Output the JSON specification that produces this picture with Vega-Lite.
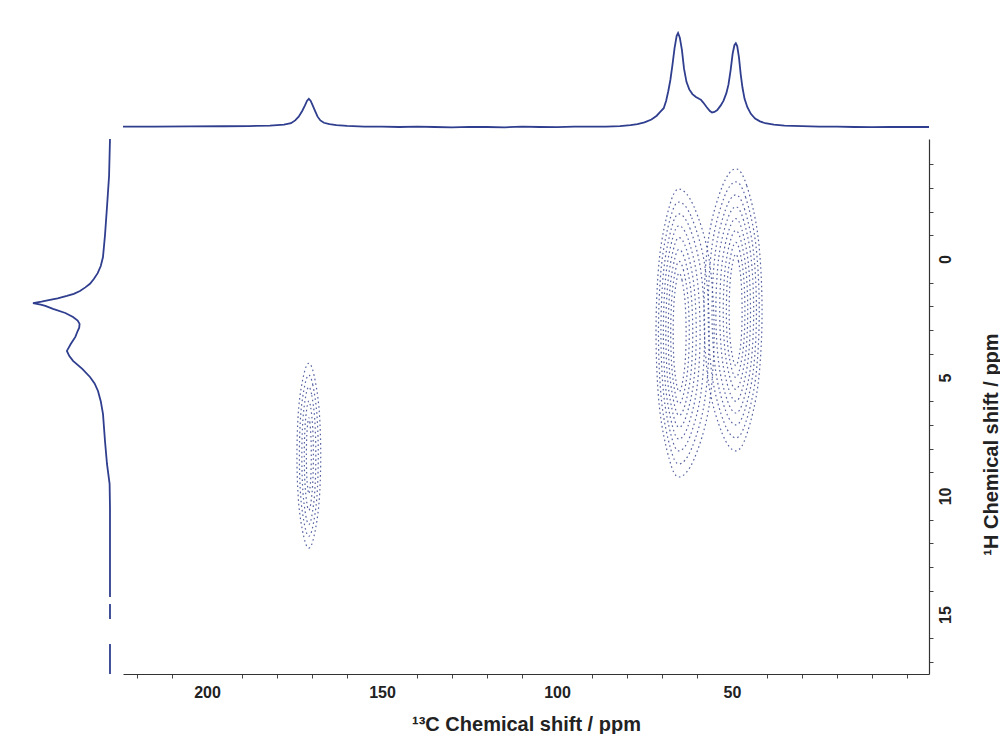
{
  "$schema": "https://vega.github.io/schema/vega-lite/v6.json",
  "background": "white",
  "padding": {"left": 20, "top": 20, "right": 0, "bottom": 0},
  "config": {"view": {"stroke": null}, "font": "Liberation Sans"},
  "columns": 2,
  "spacing": 0,
  "datasets": {
    "top": [
      {"c":224,"i":0.3},{"c":215,"i":0.5},{"c":205,"i":0.6},{"c":195,"i":0.8},{"c":188,"i":1.0},{"c":182,"i":1.5},{"c":178,"i":2.5},{"c":176,"i":4},{"c":174.8,"i":7},{"c":173.8,"i":11},{"c":172.8,"i":17},{"c":172,"i":23},{"c":171.4,"i":28},{"c":170.9,"i":30},{"c":170.4,"i":28},{"c":169.8,"i":23},{"c":169.1,"i":17},{"c":168.4,"i":11},{"c":167.6,"i":7},{"c":166.6,"i":4.5},{"c":165,"i":3},{"c":163,"i":2},{"c":160,"i":1.2},{"c":155,"i":0.5},{"c":150,"i":0.3},{"c":145,"i":0},{"c":140,"i":0.4},{"c":135,"i":0},{"c":130,"i":-0.3},{"c":125,"i":0.2},{"c":120,"i":0},{"c":115,"i":-0.3},{"c":110,"i":0.3},{"c":105,"i":0},{"c":100,"i":-0.2},{"c":95,"i":0.4},{"c":90,"i":0.3},{"c":86,"i":0.5},{"c":82,"i":1},{"c":79,"i":2},{"c":77,"i":3},{"c":75,"i":5},{"c":73,"i":8},{"c":71.5,"i":12},{"c":70.5,"i":16},{"c":69.5,"i":20},{"c":68.8,"i":28},{"c":68.2,"i":38},{"c":67.6,"i":50},{"c":67.0,"i":66},{"c":66.4,"i":84},{"c":65.8,"i":97},{"c":65.4,"i":100},{"c":64.9,"i":95},{"c":64.3,"i":82},{"c":63.7,"i":62},{"c":63.0,"i":48},{"c":62.2,"i":40},{"c":61.3,"i":35},{"c":60.3,"i":32},{"c":59.4,"i":30},{"c":58.9,"i":29},{"c":58.2,"i":26},{"c":57.2,"i":21},{"c":56.3,"i":17},{"c":55.7,"i":15.5},{"c":55,"i":16},{"c":54.2,"i":18},{"c":53.2,"i":23},{"c":52.4,"i":28},{"c":51.6,"i":36},{"c":51.0,"i":45},{"c":50.4,"i":60},{"c":49.8,"i":78},{"c":49.3,"i":87},{"c":48.9,"i":89},{"c":48.5,"i":86},{"c":48.0,"i":74},{"c":47.5,"i":56},{"c":47.0,"i":42},{"c":46.4,"i":30},{"c":45.6,"i":21},{"c":44.6,"i":14},{"c":43.4,"i":9},{"c":42,"i":6},{"c":40.5,"i":4},{"c":38,"i":2.5},{"c":35,"i":1.5},{"c":30,"i":1},{"c":25,"i":0.5},{"c":20,"i":0.3},{"c":15,"i":0},{"c":10,"i":-0.2},{"c":5,"i":0},{"c":0,"i":0},{"c":-6.3,"i":0}
    ],
    "left": [
      {"s":1,"h":-5.06,"i":0},{"s":1,"h":-3.5,"i":1.2},{"s":1,"h":-2.19,"i":3.9},{"s":1,"h":-1.0,"i":6.5},{"s":1,"h":-0.08,"i":9.1},{"s":1,"h":0.3,"i":12},{"s":1,"h":0.6,"i":16},{"s":1,"h":0.85,"i":21},{"s":1,"h":1.05,"i":26},{"s":1,"h":1.2,"i":32},{"s":1,"h":1.35,"i":39},{"s":1,"h":1.47,"i":47},{"s":1,"h":1.56,"i":56},{"s":1,"h":1.66,"i":68},{"s":1,"h":1.73,"i":78},{"s":1,"h":1.8,"i":89},{"s":1,"h":1.86,"i":100},{"s":1,"h":1.93,"i":90},{"s":1,"h":1.98,"i":84},{"s":1,"h":2.11,"i":74},{"s":1,"h":2.28,"i":58},{"s":1,"h":2.45,"i":48},{"s":1,"h":2.6,"i":42},{"s":1,"h":2.74,"i":39.5},{"s":1,"h":2.9,"i":40},{"s":1,"h":3.04,"i":42},{"s":1,"h":3.29,"i":45},{"s":1,"h":3.59,"i":51},{"s":1,"h":3.88,"i":56},{"s":1,"h":4.09,"i":53},{"s":1,"h":4.30,"i":48},{"s":1,"h":4.64,"i":36},{"s":1,"h":4.98,"i":26},{"s":1,"h":5.25,"i":20},{"s":1,"h":5.57,"i":15.6},{"s":1,"h":6.0,"i":12},{"s":1,"h":6.54,"i":9.1},{"s":1,"h":7.68,"i":6.5},{"s":1,"h":8.65,"i":3.9},{"s":1,"h":9.49,"i":0.5},{"s":1,"h":10.5,"i":0},{"s":1,"h":14.26,"i":0},
      {"s":2,"h":14.56,"i":0},{"s":2,"h":15.19,"i":0},
      {"s":3,"h":16.24,"i":0},{"s":3,"h":17.51,"i":0}
    ],
    "contours": [
      {"c":"L1","o":0,"x":65.1,"y":-2.95},{"c":"L1","o":1,"x":60.9,"y":-2.22},{"c":"L1","o":2,"x":56.6,"y":-0.05},{"c":"L1","o":3,"x":55.1,"y":3.1},{"c":"L1","o":4,"x":56.6,"y":6.27},{"c":"L1","o":5,"x":60.9,"y":8.47},{"c":"L1","o":6,"x":65.1,"y":9.2},{"c":"L1","o":7,"x":67.87,"y":8.47},{"c":"L1","o":8,"x":70.71,"y":6.27},{"c":"L1","o":9,"x":71.7,"y":3.1},{"c":"L1","o":10,"x":70.71,"y":-0.05},{"c":"L1","o":11,"x":67.87,"y":-2.22},
      {"c":"L2","o":0,"x":65.1,"y":-2.4},{"c":"L2","o":1,"x":61.49,"y":-1.74},{"c":"L2","o":2,"x":57.79,"y":0.24},{"c":"L2","o":3,"x":56.5,"y":3.1},{"c":"L2","o":4,"x":57.79,"y":5.99},{"c":"L2","o":5,"x":61.49,"y":7.98},{"c":"L2","o":6,"x":65.1,"y":8.65},{"c":"L2","o":7,"x":67.58,"y":7.98},{"c":"L2","o":8,"x":70.12,"y":5.99},{"c":"L2","o":9,"x":71.0,"y":3.1},{"c":"L2","o":10,"x":70.12,"y":0.24},{"c":"L2","o":11,"x":67.58,"y":-1.74},
      {"c":"L3","o":0,"x":65.1,"y":-1.9},{"c":"L3","o":1,"x":62.03,"y":-1.3},{"c":"L3","o":2,"x":58.9,"y":0.5},{"c":"L3","o":3,"x":57.8,"y":3.1},{"c":"L3","o":4,"x":58.9,"y":5.7},{"c":"L3","o":5,"x":62.03,"y":7.5},{"c":"L3","o":6,"x":65.1,"y":8.1},{"c":"L3","o":7,"x":67.28,"y":7.5},{"c":"L3","o":8,"x":69.52,"y":5.7},{"c":"L3","o":9,"x":70.3,"y":3.1},{"c":"L3","o":10,"x":69.52,"y":0.5},{"c":"L3","o":11,"x":67.28,"y":-1.3},
      {"c":"L4","o":0,"x":65.1,"y":-1.4},{"c":"L4","o":1,"x":62.58,"y":-0.86},{"c":"L4","o":2,"x":60.0,"y":0.76},{"c":"L4","o":3,"x":59.1,"y":3.1},{"c":"L4","o":4,"x":60.0,"y":5.44},{"c":"L4","o":5,"x":62.58,"y":7.06},{"c":"L4","o":6,"x":65.1,"y":7.6},{"c":"L4","o":7,"x":66.99,"y":7.06},{"c":"L4","o":8,"x":68.93,"y":5.44},{"c":"L4","o":9,"x":69.6,"y":3.1},{"c":"L4","o":10,"x":68.93,"y":0.76},{"c":"L4","o":11,"x":66.99,"y":-0.86},
      {"c":"L5","o":0,"x":65.1,"y":-0.9},{"c":"L5","o":1,"x":63.04,"y":-0.42},{"c":"L5","o":2,"x":60.94,"y":1.02},{"c":"L5","o":3,"x":60.2,"y":3.1},{"c":"L5","o":4,"x":60.94,"y":5.18},{"c":"L5","o":5,"x":63.04,"y":6.62},{"c":"L5","o":6,"x":65.1,"y":7.1},{"c":"L5","o":7,"x":66.7,"y":6.62},{"c":"L5","o":8,"x":68.33,"y":5.18},{"c":"L5","o":9,"x":68.9,"y":3.1},{"c":"L5","o":10,"x":68.33,"y":1.02},{"c":"L5","o":11,"x":66.7,"y":-0.42},
      {"c":"L6","o":0,"x":65.1,"y":-0.4},{"c":"L6","o":1,"x":63.46,"y":0.02},{"c":"L6","o":2,"x":61.79,"y":1.28},{"c":"L6","o":3,"x":61.2,"y":3.1},{"c":"L6","o":4,"x":61.79,"y":4.92},{"c":"L6","o":5,"x":63.46,"y":6.18},{"c":"L6","o":6,"x":65.1,"y":6.6},{"c":"L6","o":7,"x":66.4,"y":6.18},{"c":"L6","o":8,"x":67.74,"y":4.92},{"c":"L6","o":9,"x":68.2,"y":3.1},{"c":"L6","o":10,"x":67.74,"y":1.28},{"c":"L6","o":11,"x":66.4,"y":0.02},
      {"c":"L7","o":0,"x":65.1,"y":0.1},{"c":"L7","o":1,"x":63.88,"y":0.46},{"c":"L7","o":2,"x":62.64,"y":1.54},{"c":"L7","o":3,"x":62.2,"y":3.1},{"c":"L7","o":4,"x":62.64,"y":4.66},{"c":"L7","o":5,"x":63.88,"y":5.74},{"c":"L7","o":6,"x":65.1,"y":6.1},{"c":"L7","o":7,"x":66.11,"y":5.74},{"c":"L7","o":8,"x":67.14,"y":4.66},{"c":"L7","o":9,"x":67.5,"y":3.1},{"c":"L7","o":10,"x":67.14,"y":1.54},{"c":"L7","o":11,"x":66.11,"y":0.46},
      {"c":"L8","o":0,"x":65.1,"y":0.6},{"c":"L8","o":1,"x":64.26,"y":0.9},{"c":"L8","o":2,"x":63.4,"y":1.8},{"c":"L8","o":3,"x":63.1,"y":3.1},{"c":"L8","o":4,"x":63.4,"y":4.4},{"c":"L8","o":5,"x":64.26,"y":5.3},{"c":"L8","o":6,"x":65.1,"y":5.6},{"c":"L8","o":7,"x":65.81,"y":5.3},{"c":"L8","o":8,"x":66.55,"y":4.4},{"c":"L8","o":9,"x":66.8,"y":3.1},{"c":"L8","o":10,"x":66.55,"y":1.8},{"c":"L8","o":11,"x":65.81,"y":0.9},
      {"c":"R1","o":0,"x":48.9,"y":-3.8},{"c":"R1","o":1,"x":45.75,"y":-3.08},{"c":"R1","o":2,"x":42.53,"y":-0.92},{"c":"R1","o":3,"x":41.4,"y":2.2},{"c":"R1","o":4,"x":42.53,"y":5.27},{"c":"R1","o":5,"x":45.75,"y":7.39},{"c":"R1","o":6,"x":48.9,"y":8.1},{"c":"R1","o":7,"x":52.72,"y":7.39},{"c":"R1","o":8,"x":56.64,"y":5.27},{"c":"R1","o":9,"x":58.0,"y":2.2},{"c":"R1","o":10,"x":56.64,"y":-0.92},{"c":"R1","o":11,"x":52.72,"y":-3.08},
      {"c":"R2","o":0,"x":48.9,"y":-3.25},{"c":"R2","o":1,"x":46.09,"y":-2.6},{"c":"R2","o":2,"x":43.2,"y":-0.63},{"c":"R2","o":3,"x":42.2,"y":2.2},{"c":"R2","o":4,"x":43.2,"y":4.98},{"c":"R2","o":5,"x":46.09,"y":6.91},{"c":"R2","o":6,"x":48.9,"y":7.55},{"c":"R2","o":7,"x":52.22,"y":6.91},{"c":"R2","o":8,"x":55.62,"y":4.98},{"c":"R2","o":9,"x":56.8,"y":2.2},{"c":"R2","o":10,"x":55.62,"y":-0.63},{"c":"R2","o":11,"x":52.22,"y":-2.6},
      {"c":"R3","o":0,"x":48.9,"y":-2.7},{"c":"R3","o":1,"x":46.42,"y":-2.11},{"c":"R3","o":2,"x":43.89,"y":-0.35},{"c":"R3","o":3,"x":43.0,"y":2.2},{"c":"R3","o":4,"x":43.89,"y":4.7},{"c":"R3","o":5,"x":46.42,"y":6.42},{"c":"R3","o":6,"x":48.9,"y":7.0},{"c":"R3","o":7,"x":51.76,"y":6.42},{"c":"R3","o":8,"x":54.68,"y":4.7},{"c":"R3","o":9,"x":55.7,"y":2.2},{"c":"R3","o":10,"x":54.68,"y":-0.35},{"c":"R3","o":11,"x":51.76,"y":-2.11},
      {"c":"R4","o":0,"x":48.9,"y":-2.2},{"c":"R4","o":1,"x":46.76,"y":-1.67},{"c":"R4","o":2,"x":44.57,"y":-0.09},{"c":"R4","o":3,"x":43.8,"y":2.2},{"c":"R4","o":4,"x":44.57,"y":4.44},{"c":"R4","o":5,"x":46.76,"y":5.98},{"c":"R4","o":6,"x":48.9,"y":6.5},{"c":"R4","o":7,"x":51.29,"y":5.98},{"c":"R4","o":8,"x":53.75,"y":4.44},{"c":"R4","o":9,"x":54.6,"y":2.2},{"c":"R4","o":10,"x":53.75,"y":-0.09},{"c":"R4","o":11,"x":51.29,"y":-1.67},
      {"c":"R5","o":0,"x":48.9,"y":-1.7},{"c":"R5","o":1,"x":47.14,"y":-1.23},{"c":"R5","o":2,"x":45.33,"y":0.17},{"c":"R5","o":3,"x":44.7,"y":2.2},{"c":"R5","o":4,"x":45.33,"y":4.18},{"c":"R5","o":5,"x":47.14,"y":5.54},{"c":"R5","o":6,"x":48.9,"y":6.0},{"c":"R5","o":7,"x":50.83,"y":5.54},{"c":"R5","o":8,"x":52.81,"y":4.18},{"c":"R5","o":9,"x":53.5,"y":2.2},{"c":"R5","o":10,"x":52.81,"y":0.17},{"c":"R5","o":11,"x":50.83,"y":-1.23},
      {"c":"R6","o":0,"x":48.9,"y":-1.2},{"c":"R6","o":1,"x":47.47,"y":-0.79},{"c":"R6","o":2,"x":46.01,"y":0.43},{"c":"R6","o":3,"x":45.5,"y":2.2},{"c":"R6","o":4,"x":46.01,"y":3.92},{"c":"R6","o":5,"x":47.47,"y":5.1},{"c":"R6","o":6,"x":48.9,"y":5.5},{"c":"R6","o":7,"x":50.41,"y":5.1},{"c":"R6","o":8,"x":51.96,"y":3.92},{"c":"R6","o":9,"x":52.5,"y":2.2},{"c":"R6","o":10,"x":51.96,"y":0.43},{"c":"R6","o":11,"x":50.41,"y":-0.79},
      {"c":"R7","o":0,"x":48.9,"y":-0.7},{"c":"R7","o":1,"x":47.81,"y":-0.35},{"c":"R7","o":2,"x":46.69,"y":0.69},{"c":"R7","o":3,"x":46.3,"y":2.2},{"c":"R7","o":4,"x":46.69,"y":3.66},{"c":"R7","o":5,"x":47.81,"y":4.66},{"c":"R7","o":6,"x":48.9,"y":5.0},{"c":"R7","o":7,"x":50.03,"y":4.66},{"c":"R7","o":8,"x":51.2,"y":3.66},{"c":"R7","o":9,"x":51.6,"y":2.2},{"c":"R7","o":10,"x":51.2,"y":0.69},{"c":"R7","o":11,"x":50.03,"y":-0.35},
      {"c":"R8","o":0,"x":48.9,"y":-0.2},{"c":"R8","o":1,"x":48.14,"y":0.09},{"c":"R8","o":2,"x":47.37,"y":0.95},{"c":"R8","o":3,"x":47.1,"y":2.2},{"c":"R8","o":4,"x":47.37,"y":3.4},{"c":"R8","o":5,"x":48.14,"y":4.22},{"c":"R8","o":6,"x":48.9,"y":4.5},{"c":"R8","o":7,"x":49.7,"y":4.22},{"c":"R8","o":8,"x":50.52,"y":3.4},{"c":"R8","o":9,"x":50.8,"y":2.2},{"c":"R8","o":10,"x":50.52,"y":0.95},{"c":"R8","o":11,"x":49.7,"y":0.09},
      {"c":"S1","o":0,"x":170.9,"y":4.4},{"c":"S1","o":1,"x":169.47,"y":4.87},{"c":"S1","o":2,"x":168.01,"y":6.27},{"c":"S1","o":3,"x":167.5,"y":8.3},{"c":"S1","o":4,"x":168.01,"y":10.33},{"c":"S1","o":5,"x":169.47,"y":11.73},{"c":"S1","o":6,"x":170.9,"y":12.2},{"c":"S1","o":7,"x":172.33,"y":11.73},{"c":"S1","o":8,"x":173.79,"y":10.33},{"c":"S1","o":9,"x":174.3,"y":8.3},{"c":"S1","o":10,"x":173.79,"y":6.27},{"c":"S1","o":11,"x":172.33,"y":4.87},
      {"c":"S2","o":0,"x":170.9,"y":4.9},{"c":"S2","o":1,"x":169.77,"y":5.31},{"c":"S2","o":2,"x":168.61,"y":6.53},{"c":"S2","o":3,"x":168.2,"y":8.3},{"c":"S2","o":4,"x":168.61,"y":10.07},{"c":"S2","o":5,"x":169.77,"y":11.29},{"c":"S2","o":6,"x":170.9,"y":11.7},{"c":"S2","o":7,"x":172.03,"y":11.29},{"c":"S2","o":8,"x":173.2,"y":10.07},{"c":"S2","o":9,"x":173.6,"y":8.3},{"c":"S2","o":10,"x":173.2,"y":6.53},{"c":"S2","o":11,"x":172.03,"y":5.31},
      {"c":"S3","o":0,"x":170.9,"y":5.4},{"c":"S3","o":1,"x":170.06,"y":5.75},{"c":"S3","o":2,"x":169.2,"y":6.79},{"c":"S3","o":3,"x":168.9,"y":8.3},{"c":"S3","o":4,"x":169.2,"y":9.81},{"c":"S3","o":5,"x":170.06,"y":10.85},{"c":"S3","o":6,"x":170.9,"y":11.2},{"c":"S3","o":7,"x":171.74,"y":10.85},{"c":"S3","o":8,"x":172.6,"y":9.81},{"c":"S3","o":9,"x":172.9,"y":8.3},{"c":"S3","o":10,"x":172.6,"y":6.79},{"c":"S3","o":11,"x":171.74,"y":5.75},
      {"c":"S4","o":0,"x":170.9,"y":6.0},{"c":"S4","o":1,"x":170.35,"y":6.28},{"c":"S4","o":2,"x":169.8,"y":7.1},{"c":"S4","o":3,"x":169.6,"y":8.3},{"c":"S4","o":4,"x":169.8,"y":9.5},{"c":"S4","o":5,"x":170.35,"y":10.32},{"c":"S4","o":6,"x":170.9,"y":10.6},{"c":"S4","o":7,"x":171.45,"y":10.32},{"c":"S4","o":8,"x":172.0,"y":9.5},{"c":"S4","o":9,"x":172.2,"y":8.3},{"c":"S4","o":10,"x":172.0,"y":7.1},{"c":"S4","o":11,"x":171.45,"y":6.28},
      {"c":"S5","o":0,"x":170.9,"y":6.7},{"c":"S5","o":1,"x":170.61,"y":6.89},{"c":"S5","o":2,"x":170.31,"y":7.47},{"c":"S5","o":3,"x":170.2,"y":8.3},{"c":"S5","o":4,"x":170.31,"y":9.13},{"c":"S5","o":5,"x":170.61,"y":9.71},{"c":"S5","o":6,"x":170.9,"y":9.9},{"c":"S5","o":7,"x":171.19,"y":9.71},{"c":"S5","o":8,"x":171.5,"y":9.13},{"c":"S5","o":9,"x":171.6,"y":8.3},{"c":"S5","o":10,"x":171.5,"y":7.47},{"c":"S5","o":11,"x":171.19,"y":6.89}
    ]
  },
  "concat": [
    {
      "width": 99, "height": 115,
      "data": {"values": [{"a": 0}]},
      "mark": {"type": "point", "opacity": 0},
      "encoding": {}
    },
    {
      "width": 806, "height": 115,
      "data": {"name": "top"},
      "mark": {"type": "line", "color": "#2f3e8e", "strokeWidth": 1.8},
      "encoding": {
        "x": {"field": "c", "type": "quantitative", "axis": null, "scale": {"domain": [-6.3, 224], "reverse": true, "nice": false, "zero": false}},
        "y": {"field": "i", "type": "quantitative", "axis": null, "scale": {"domain": [-8.5, 113.8], "nice": false, "zero": false}}
      }
    },
    {
      "width": 99, "height": 535,
      "data": {"name": "left"},
      "mark": {"type": "line", "color": "#2f3e8e", "strokeWidth": 1.8},
      "encoding": {
        "x": {"field": "i", "type": "quantitative", "axis": null, "scale": {"domain": [-11.7, 116.9], "reverse": true, "nice": false, "zero": false}},
        "y": {"field": "h", "type": "quantitative", "axis": null, "scale": {"domain": [-5.06, 17.51], "reverse": true, "nice": false, "zero": false}},
        "detail": {"field": "s", "type": "nominal"},
        "order": {"field": "h", "type": "quantitative"}
      }
    },
    {
      "width": 806, "height": 535,
      "data": {"name": "contours"},
      "mark": {"type": "line", "interpolate": "cardinal-closed", "color": "#3a4892", "strokeWidth": 1.2, "strokeDash": [1.6, 3], "opacity": 0.85},
      "encoding": {
        "x": {
          "field": "x", "type": "quantitative",
          "scale": {"domain": [-6.3, 224], "reverse": true, "nice": false, "zero": false},
          "axis": {
            "orient": "bottom",
            "values": [0,10,20,30,40,50,60,70,80,90,100,110,120,130,140,150,160,170,180,190,200,210,220],
            "labelExpr": "(datum.value >= 50 && datum.value % 50 === 0) ? datum.label : ''",
            "tickOpacity": {"condition": {"test": "datum.value >= 50 && datum.value % 50 === 0", "value": 0}, "value": 1},
            "title": "¹³C Chemical shift / ppm",
            "grid": false,
            "domainColor": "#333333", "domainWidth": 1.2,
            "tickColor": "#444444", "tickSize": 4,
            "labelFont": "Liberation Sans", "labelFontWeight": "bold", "labelFontSize": 16, "labelColor": "#222222", "labelPadding": 6, "labelOverlap": false,
            "titleFont": "Liberation Sans", "titleFontWeight": "bold", "titleFontSize": 20, "titleColor": "#222222",
            "titleY": 50, "titleBaseline": "middle"
          }
        },
        "y": {
          "field": "y", "type": "quantitative",
          "scale": {"domain": [-5.06, 17.51], "reverse": true, "nice": false, "zero": false},
          "axis": {
            "orient": "right",
            "values": [-5,-4,-3,-2,-1,0,1,2,3,4,5,6,7,8,9,10,11,12,13,14,15,16,17],
            "labelExpr": "(datum.value >= 0 && datum.value % 5 === 0) ? datum.label : ''",
            "tickOpacity": {"condition": {"test": "datum.value % 5 === 0", "value": 0}, "value": 1},
            "title": "¹H Chemical shift / ppm",
            "grid": false,
            "domainColor": "#333333", "domainWidth": 1.2,
            "tickColor": "#444444", "tickSize": 4,
            "labelFont": "Liberation Sans", "labelFontWeight": "bold", "labelFontSize": 16, "labelColor": "#222222",
            "labelAngle": 270, "labelAlign": "center", "labelBaseline": "top", "labelPadding": 4, "labelOverlap": false,
            "titleFont": "Liberation Sans", "titleFontWeight": "bold", "titleFontSize": 20, "titleColor": "#222222",
            "titleAngle": 270, "titleX": 62, "titleY": 305, "titleAlign": "center", "titleBaseline": "middle"
          }
        },
        "detail": {"field": "c", "type": "nominal"},
        "order": {"field": "o", "type": "quantitative"}
      }
    }
  ]
}
